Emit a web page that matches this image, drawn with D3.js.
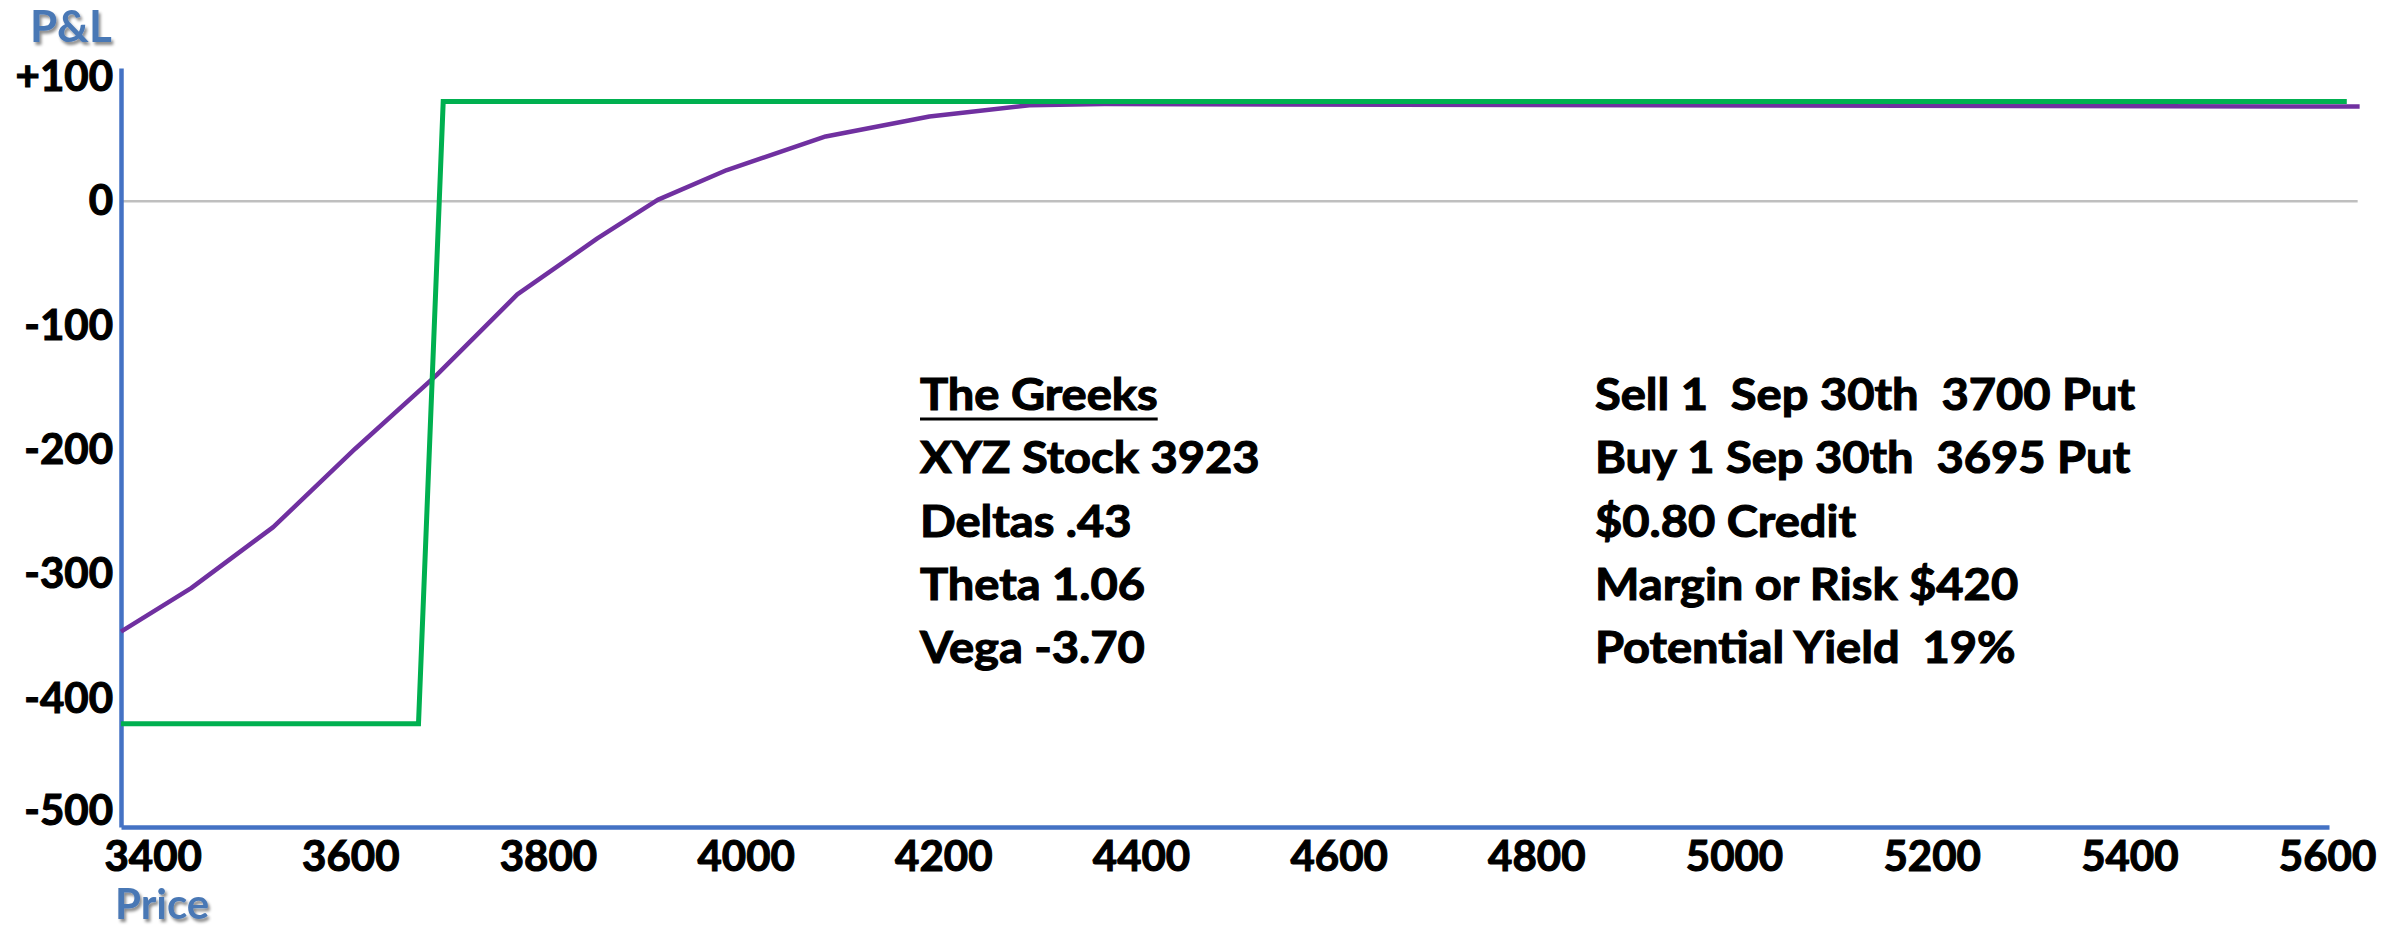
<!DOCTYPE html>
<html><head><meta charset="utf-8">
<script src="https://cdn.jsdelivr.net/npm/d3@7"></script>
<style>
body{margin:0;background:#fff}
text{font-family:Lato,"Open Sans",sans-serif;font-weight:bold;white-space:pre}
</style>
</head><body>
<svg id="chart" width="2400" height="929"></svg>
<script>
// ---- data ----
const priceTicks = [3400, 3600, 3800, 4000, 4200, 4400, 4600, 4800, 5000, 5200, 5400, 5600];
const plTicks = [100, 0, -100, -200, -300, -400, -500];
const expiryPrice = [3368, 3669, 3694, 5620];
const expiryPL = [-420, -420, 80, 80];
const todayPrice = [3368, 3439, 3522, 3605, 3687, 3769, 3850, 3911, 3981, 4081, 4186, 4287, 4363, 5633];
const todayPL = [-346, -311, -262, -199, -140, -75, -30, 1, 25, 52, 68, 77, 78, 76];
const priceDomain = [3368, 5602];
const plDomain = [-503, 107];
const zeroLineEnd = 5631;
const greeksLines = ["The Greeks", "XYZ Stock 3923", "Deltas .43", "Theta 1.06", "Vega -3.70"];
const tradeLines = ["Sell 1  Sep 30th  3700 Put", "Buy 1 Sep 30th  3695 Put", "$0.80 Credit", "Margin or Risk $420", "Potential Yield  19%"];

// ---- chart ----
const svg = d3.select("#chart");
const x = d3.scaleLinear().domain(priceDomain).range([121, 2329]);
const y = d3.scaleLinear().domain(plDomain).range([827, 68]);

const defs = svg.append("defs");
const f = defs.append("filter").attr("id", "shadow").attr("x", "-20%").attr("y", "-20%").attr("width", "150%").attr("height", "160%");
f.append("feDropShadow").attr("dx", 2).attr("dy", 3).attr("stdDeviation", 1.5).attr("flood-color", "#000").attr("flood-opacity", 0.45);

// zero line
svg.append("line")
  .attr("x1", x(priceDomain[0])).attr("x2", x(zeroLineEnd))
  .attr("y1", y(0)).attr("y2", y(0))
  .attr("stroke", "#BFBFBF").attr("stroke-width", 2.5);

// axes
const yAxis = svg.append("g").attr("transform", `translate(${x(priceDomain[0])},0)`)
  .call(d3.axisLeft(y).tickValues(plTicks).tickSize(0).tickPadding(8).tickFormat(d => d > 0 ? "+" + d : String(d)));
const xAxis = svg.append("g").attr("transform", `translate(0,${y(plDomain[0])})`)
  .call(d3.axisBottom(x).tickValues(priceTicks).tickSize(0).tickPadding(14).tickFormat(d => String(d)));
[yAxis, xAxis].forEach(g => {
  g.select(".domain").attr("stroke", "#4472C4").attr("stroke-width", 4.5);
  g.selectAll(".tick text").attr("fill", "#000").attr("stroke", "#000").attr("stroke-width", 1.1)
    .style("font-size", "42px").style("font-family", "Lato").style("font-weight", "bold");
});
yAxis.selectAll(".tick text").filter(d => d === -500).attr("dy", "0.04em");

// lines
const line = d3.line().x(d => x(d[0])).y(d => y(d[1]));
svg.append("path").datum(d3.zip(todayPrice, todayPL))
  .attr("d", line).attr("fill", "none").attr("stroke", "#7030A0").attr("stroke-width", 4.5).attr("stroke-linejoin", "round");
svg.append("path").datum(d3.zip(expiryPrice, expiryPL))
  .attr("d", line).attr("fill", "none").attr("stroke", "#00B050").attr("stroke-width", 5).attr("stroke-linejoin", "miter");

// axis titles
svg.append("text").attr("x", 30).attr("y", 42).text("P&L")
  .attr("fill", "#4A78B5").style("font-size", "44px").attr("filter", "url(#shadow)");
svg.append("text").attr("x", 115).attr("y", 919).text("Price")
  .attr("fill", "#4A78B5").style("font-size", "42px").attr("filter", "url(#shadow)");

// text blocks
function block(lines, x0) {
  const g = svg.append("g").attr("transform", `translate(${x0},0) scale(1.07,1)`);
  g.selectAll("text").data(lines).join("text")
    .attr("x", 0).attr("y", (d, i) => 410 + i * 63.3)
    .style("font-size", "44px").attr("fill", "#000").attr("stroke", "#000").attr("stroke-width", 1.1).text(d => d);
  return g;
}
const gb = block(greeksLines, 920);
block(tradeLines, 1595);
const first = gb.select("text").node();
const w = first.getComputedTextLength();
gb.append("line").attr("x1", 0).attr("x2", w).attr("y1", 419).attr("y2", 419)
  .attr("stroke", "#000").attr("stroke-width", 3);
</script>
</body></html>
